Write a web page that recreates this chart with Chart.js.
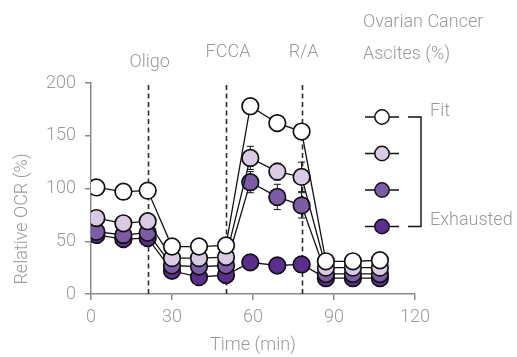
<!DOCTYPE html>
<html>
<head>
<meta charset="utf-8">
<script src="https://cdn.jsdelivr.net/npm/chart.js@4.4.1/dist/chart.umd.min.js"></script>
<style>
  html, body { margin: 0; padding: 0; background: #ffffff; }
  #wrap { width: 517px; height: 357px; position: relative; }
</style>
</head>
<body>
<div id="wrap"><canvas id="ocr" width="517" height="357"></canvas></div>
<script>
// Seahorse-style mito stress test: relative OCR over time
const timesMin      = [2, 12, 21, 30, 40, 50, 59, 69, 78, 87, 97, 107];
const fitOCR        = [101, 97, 98, 45, 45, 46, 178, 162, 154, 31, 31, 32];
const lightOCR      = [72, 67, 69, 34, 34, 35, 129, 116, 111, 25, 25, 25];
const mediumOCR     = [59, 56, 58, 27, 26, 27, 106, 92, 84, 19, 19, 19];
const exhaustedOCR  = [56, 52, 53, 22, 16, 18, 30, 27, 28, 15, 15, 15];
const lightErr      = [0, 0, 0, 0, 0, 0, 11, 8, 14, 0, 0, 0];
const mediumErr     = [0, 0, 0, 0, 0, 0, 10, 12, 12, 0, 0, 0];

const injectionTimes  = [21, 50, 78];
const injectionLabels = ['Oligo', 'FCCA', 'R/A'];
const seriesNames     = ['Fit', '', '', 'Exhausted'];
const legendTitle     = ['Ovarian Cancer', 'Ascites (%)'];
const xTickValues     = [0, 30, 60, 90, 120];
const yTickValues     = [0, 50, 100, 150, 200];
const xTitle = 'Time (min)';
const yTitle = 'Relative OCR (%)';

const fills = ['#ffffff', '#d8cbe3', '#7d5ca7', '#5a2d8e'];
const greyText = '#9a9a9a';
const axisGrey = '#8a8a8a';
const FONT = 'Roboto, "Noto Sans", sans-serif';
const WEIGHT = 300;

const seriesValues = [fitOCR, lightOCR, mediumOCR, exhaustedOCR];
const seriesErrors = [null, lightErr, mediumErr, null];

const datasets = seriesValues.map((vals, i) => ({
  label: seriesNames[i] || ('series ' + (i + 1)),
  data: vals.map((v, k) => ({ x: timesMin[k], y: v })),
  borderColor: '#111111',
  borderWidth: 1.3,
  pointBackgroundColor: fills[i],
  pointBorderColor: '#111111',
  pointBorderWidth: 1.7,
  pointRadius: 8.3,
  pointHoverRadius: 8.3,
  tension: 0,
  errors: seriesErrors[i]
}));

// injection markers and error bars, drawn beneath the series
const underlay = {
  id: 'underlay',
  beforeDatasetsDraw(chart) {
    const { ctx, chartArea, scales: { x, y } } = chart;
    ctx.save();
    ctx.strokeStyle = '#2b2b2b';
    ctx.lineWidth = 1.6;
    ctx.setLineDash([5, 3.5]);
    injectionTimes.forEach(t => {
      const px = Math.round(x.getPixelForValue(t)) + 0.5;
      ctx.beginPath();
      ctx.moveTo(px, chartArea.top + 2);
      ctx.lineTo(px, chartArea.bottom);
      ctx.stroke();
    });
    ctx.setLineDash([]);
    ctx.strokeStyle = '#111111';
    ctx.lineWidth = 1;
    chart.data.datasets.forEach(ds => {
      if (!ds.errors) return;
      ds.data.forEach((p, k) => {
        const e = ds.errors[k];
        if (!e) return;
        const px = x.getPixelForValue(p.x);
        const top = y.getPixelForValue(p.y + e);
        const bot = y.getPixelForValue(p.y - e);
        ctx.beginPath();
        ctx.moveTo(px, top); ctx.lineTo(px, bot);
        ctx.moveTo(px - 3.5, top); ctx.lineTo(px + 3.5, top);
        ctx.moveTo(px - 3.5, bot); ctx.lineTo(px + 3.5, bot);
        ctx.stroke();
      });
    });
    ctx.restore();
  }
};

// texts and legend around the plot
const overlay = {
  id: 'overlay',
  afterDraw(chart) {
    const { ctx, chartArea, scales: { x } } = chart;
    ctx.save();
    ctx.fillStyle = greyText;
    ctx.font = WEIGHT + ' 18px ' + FONT;
    ctx.textAlign = 'center';
    ctx.textBaseline = 'middle';
    const labelY = [62, 52, 52];
    injectionTimes.forEach((t, i) => {
      ctx.fillText(injectionLabels[i], x.getPixelForValue(t) + 2, labelY[i]);
    });

    // y axis title
    ctx.save();
    ctx.translate(22, 219);
    ctx.rotate(-Math.PI / 2);
    ctx.fillText(yTitle, 0, 0);
    ctx.restore();

    // x axis title
    ctx.fillText(xTitle, (chartArea.left + chartArea.right) / 2, 345);

    // legend
    ctx.textAlign = 'left';
    ctx.fillText(legendTitle[0], 363, 22);
    ctx.fillText(legendTitle[1], 363, 54);
    const rowY = [117, 153.5, 190, 226.5];
    fills.forEach((f, i) => {
      const cy = rowY[i];
      ctx.strokeStyle = '#111111';
      ctx.lineWidth = 1.4;
      ctx.beginPath();
      ctx.moveTo(365, cy); ctx.lineTo(399, cy);
      ctx.stroke();
      ctx.beginPath();
      ctx.arc(382, cy, 7.2, 0, Math.PI * 2);
      ctx.fillStyle = f;
      ctx.fill();
      ctx.lineWidth = 1.5;
      ctx.stroke();
    });
    ctx.strokeStyle = '#111111';
    ctx.lineWidth = 1.4;
    ctx.beginPath();
    ctx.moveTo(408, rowY[0]); ctx.lineTo(421, rowY[0]);
    ctx.lineTo(421, rowY[3]); ctx.lineTo(408, rowY[3]);
    ctx.stroke();
    ctx.fillStyle = greyText;
    ctx.fillText(seriesNames[0], 430, 111);
    ctx.fillText(seriesNames[3], 430, 220);
    ctx.restore();
  }
};

new Chart(document.getElementById('ocr'), {
  type: 'line',
  data: { datasets },
  options: {
    responsive: false,
    animation: false,
    events: [],
    layout: { padding: { top: 83, right: 102, left: 0, bottom: 0 } },
    plugins: { legend: { display: false }, tooltip: { enabled: false } },
    scales: {
      x: {
        type: 'linear',
        min: 0, max: 120,
        afterFit(s) { s.height = 63; },
        afterBuildTicks(s) { s.ticks = xTickValues.map(v => ({ value: v })); },
        grid: { display: true, drawOnChartArea: false, drawTicks: true, tickLength: 6, tickColor: axisGrey, lineWidth: 1.5 },
        border: { display: true, color: axisGrey, width: 1.5 },
        ticks: { color: greyText, font: { family: FONT, size: 18, weight: WEIGHT }, padding: 7, maxRotation: 0 }
      },
      y: {
        type: 'linear',
        min: 0, max: 200,
        afterFit(s) { s.width = 91; },
        afterBuildTicks(s) { s.ticks = yTickValues.map(v => ({ value: v })); },
        grid: { display: true, drawOnChartArea: false, drawTicks: true, tickLength: 6, tickColor: axisGrey, lineWidth: 1.5 },
        border: { display: true, color: axisGrey, width: 1.5 },
        ticks: { color: greyText, font: { family: FONT, size: 18, weight: WEIGHT }, padding: 9 }
      }
    }
  },
  plugins: [underlay, overlay]
});
</script>
</body>
</html>
